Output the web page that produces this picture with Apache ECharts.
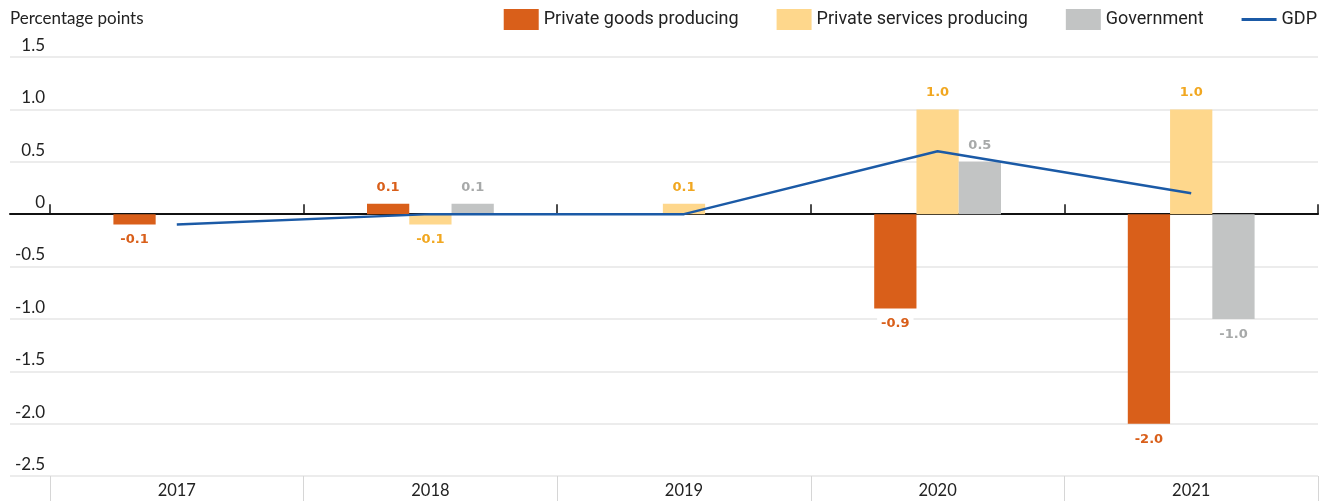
<!DOCTYPE html>
<html>
<head>
<meta charset="utf-8">
<title>Contributions to GDP</title>
<script src="https://cdn.jsdelivr.net/npm/echarts@6/dist/echarts.min.js"></script>
<style>
  html, body { margin: 0; padding: 0; background: #ffffff; }
  #chart { width: 1327px; height: 501px; }
</style>
</head>
<body>
<div id="chart"></div>
<script>
// Years on the category axis
const years = ['2017', '2018', '2019', '2020', '2021'];

// Contributions, percentage points
const goodsProducing = [-0.1, 0.1, 0, -0.9, -2.0];
const servicesProducing = [0, -0.1, 0.1, 1.0, 1.0];
const government = [0, 0.1, 0, 0.5, -1.0];
const gdp = [-0.1, 0.0, 0.0, 0.6, 0.2];

// Value axis range and step
const yMin = -2.5;
const yMax = 1.5;
const yStep = 0.5;

const FONT = 'Lato, "Open Sans", "DejaVu Sans", sans-serif';
const LEGEND_FONT = 'Roboto, "Noto Sans", sans-serif';
const VALUE_FONT = '"DejaVu Sans", Lato, sans-serif';

const colors = {
  goods: '#d95f1a',
  services: '#fed78c',
  government: '#c2c4c4',
  gdp: '#1b5aa6'
};
const labelColors = {
  goods: '#d95f1a',
  services: '#f1a720',
  government: '#a7a9a9'
};

function fmt(v) {
  return v === 0 ? '0' : v.toFixed(1);
}

// Bar items carry their own label side: above positive bars, below negative ones
function barItems(values, labelColor) {
  return values.map(function (v) {
    const above = v >= 0;
    return {
      value: v,
      label: {
        show: v !== 0,
        position: above ? 'top' : 'bottom',
        distance: above ? 9 : 7,
        color: labelColor,
        fontFamily: VALUE_FONT,
        fontWeight: 'bold',
        fontSize: 13,
        backgroundColor: '#ffffff',
        padding: [2, 4, 1, 4],
        formatter: function (p) { return fmt(p.value); }
      }
    };
  });
}

const chart = echarts.init(document.getElementById('chart'), null, { renderer: 'canvas' });

chart.setOption({
  animation: false,
  backgroundColor: '#ffffff',
  textStyle: { fontFamily: FONT },
  title: {
    text: 'Percentage points',
    left: 10,
    top: 10,
    padding: 0,
    textStyle: { fontFamily: FONT, fontSize: 17, fontWeight: 'normal', color: '#222222' }
  },
  legend: {
    right: 10,
    top: 9,
    padding: 0,
    itemWidth: 35,
    itemHeight: 21,
    itemGap: 38,
    textStyle: { fontFamily: LEGEND_FONT, fontSize: 18, color: '#222222' },
    data: [
      { name: 'Private goods producing', icon: 'rect' },
      { name: 'Private services producing', icon: 'rect' },
      { name: 'Government', icon: 'rect' },
      { name: 'GDP', icon: 'path://M0,0H36V3H0Z' }
    ]
  },
  grid: [
    // full-width grid: value labels, gridlines and the zero line
    { left: 10, right: 9, top: 57, bottom: 25 },
    // plotting grid with the year categories
    { left: 50, right: 9, top: 57, bottom: 25 }
  ],
  xAxis: [
    {
      gridIndex: 0,
      type: 'value',
      min: 0,
      max: 1,
      axisLine: { show: true, onZero: true, lineStyle: { color: '#111111', width: 2 } },
      axisTick: { show: false },
      axisLabel: { show: false },
      splitLine: { show: false }
    },
    {
      gridIndex: 1,
      type: 'category',
      position: 'bottom',
      data: years,
      boundaryGap: true,
      axisLine: { show: false, onZero: false },
      axisTick: { show: true, length: 25, lineStyle: { color: '#d6d6d6', width: 1 } },
      axisLabel: { margin: 6, fontFamily: FONT, fontSize: 16.5, color: '#222222' },
      splitLine: { show: false }
    },
    {
      gridIndex: 1,
      type: 'category',
      position: 'bottom',
      data: years,
      boundaryGap: true,
      axisLine: { show: false, onZero: true },
      axisTick: { show: true, inside: true, length: 10, lineStyle: { color: '#111111', width: 1.5 } },
      axisLabel: { show: false },
      splitLine: { show: false }
    }
  ],
  yAxis: [
    {
      gridIndex: 0,
      type: 'value',
      min: yMin,
      max: yMax,
      interval: yStep,
      axisLine: { show: false },
      axisTick: { show: false },
      axisLabel: {
        inside: true,
        align: 'right',
        verticalAlign: 'bottom',
        margin: 35,
        padding: [0, 0, 3, 0],
        fontFamily: FONT,
        fontSize: 17,
        color: '#222222',
        formatter: fmt
      },
      splitLine: { show: true, lineStyle: { color: '#e6e6e6', width: 1.5 } }
    },
    {
      gridIndex: 1,
      type: 'value',
      min: yMin,
      max: yMax,
      interval: yStep,
      axisLine: { show: false },
      axisTick: { show: false },
      axisLabel: { show: false },
      splitLine: { show: false }
    }
  ],
  series: [
    {
      name: 'Private goods producing',
      type: 'bar',
      xAxisIndex: 1,
      yAxisIndex: 1,
      barGap: '0%',
      barCategoryGap: '50%',
      itemStyle: { color: colors.goods },
      data: barItems(goodsProducing, labelColors.goods),
      z: 3
    },
    {
      name: 'Private services producing',
      type: 'bar',
      xAxisIndex: 1,
      yAxisIndex: 1,
      barGap: '0%',
      barCategoryGap: '50%',
      itemStyle: { color: colors.services },
      data: barItems(servicesProducing, labelColors.services),
      z: 3
    },
    {
      name: 'Government',
      type: 'bar',
      xAxisIndex: 1,
      yAxisIndex: 1,
      barGap: '0%',
      barCategoryGap: '50%',
      itemStyle: { color: colors.government },
      data: barItems(government, labelColors.government),
      z: 3
    },
    {
      name: 'GDP',
      type: 'line',
      xAxisIndex: 1,
      yAxisIndex: 1,
      symbol: 'none',
      showSymbol: false,
      lineStyle: { color: colors.gdp, width: 2.5 },
      itemStyle: { color: colors.gdp },
      data: gdp,
      z: 5
    }
  ]
});
</script>
</body>
</html>
